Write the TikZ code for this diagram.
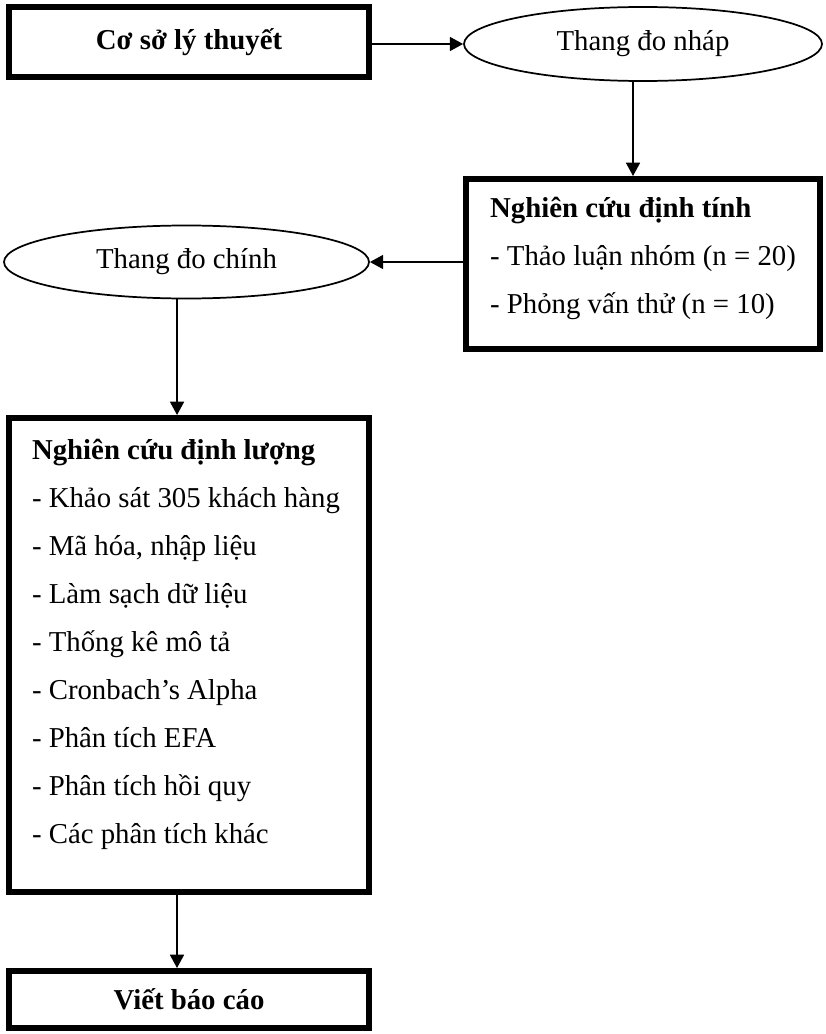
\documentclass[tikz,border=0pt]{standalone}
\usepackage{fontspec}
\setmainfont{Liberation Serif}
\usetikzlibrary{arrows.meta,shapes.geometric}
\begin{document}
\begin{tikzpicture}[x=0.75pt,y=-0.75pt,
  txt/.style={font=\fontsize{21.6pt}{36pt}\selectfont},
  thickbox/.style={draw, rectangle, line width=4.5pt, inner sep=0pt, txt},
  oval/.style={draw, ellipse, line width=1.3pt, inner sep=0pt, txt},
  arr/.style={-{Triangle[length=10pt,width=10.5pt]}, line width=1.3pt}]
\useasboundingbox (0,0) rectangle (825,1034);
\node[thickbox, minimum width=270pt, minimum height=52.5pt] (b1) at (189,42) {\textbf{Cơ sở lý thuyết}};
\node[oval, minimum width=268.5pt, minimum height=55.5pt] (e1) at (643,44) {Thang đo nháp};
\node[thickbox, minimum width=265.5pt, minimum height=127.5pt, align=left] (b2) at (643,264)
  {\textbf{Nghiên cứu định tính}\\- Thảo luận nhóm (n = 20)\\- Phỏng vấn thử (n = 10)\rule[-13.5pt]{0pt}{13.5pt}};
\node[oval, minimum width=273.75pt, minimum height=54.75pt] (e2) at (186.5,262) {Thang đo chính};
\node[thickbox, minimum width=270pt, minimum height=355.5pt, text width=235.5pt, inner xsep=17.25pt, align=flush left] (b3) at (189,655)
  {\textbf{Nghiên cứu định lượng}\\- Khảo sát 305 khách hàng\\- Mã hóa, nhập liệu\\- Làm sạch dữ liệu\\- Thống kê mô tả\\- Cronbach’s Alpha\\- Phân tích EFA\\- Phân tích hồi quy\\- Các phân tích khác\rule[-21pt]{0pt}{21pt}};
\node[thickbox, minimum width=270pt, minimum height=42.75pt] (b4) at (189,999.5) {\textbf{Viết báo cáo}};
\draw[arr] (b1.east |- e1.west) -- (e1.west);
\draw[arr] ([xshift=-7.5pt]e1.south) -- ([xshift=-7.5pt]e1.south |- b2.north);
\draw[arr] (b2.west |- e2.east) -- (e2.east);
\draw[arr] ([xshift=-7.1pt]e2.south) -- ([xshift=-7.1pt]e2.south |- b3.north);
\draw[arr] ([xshift=-9pt]b3.south) -- ([xshift=-9pt]b4.north);
\end{tikzpicture}
\end{document}
